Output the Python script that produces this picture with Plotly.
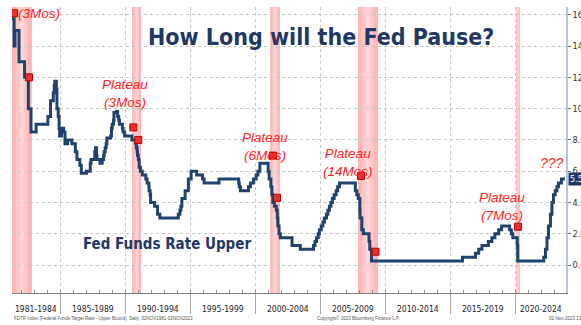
import plotly.graph_objects as go
from datetime import date

# ---------------- data ----------------
rate_dates = [
    "1981-04-22", "1981-06-20", "1981-07-15", "1981-11-05", "1982-04-10", "1982-07-25",
    "1982-10-08", "1983-03-01", "1984-01-25", "1984-04-10", "1984-06-25", "1984-07-20",
    "1984-08-10", "1984-09-20", "1984-10-05", "1984-11-10", "1984-12-05", "1984-12-20",
    "1985-02-10", "1985-04-10", "1985-05-20", "1985-08-01", "1985-12-01", "1986-03-07",
    "1986-04-21", "1986-07-11", "1986-08-21", "1987-01-10", "1987-04-30", "1987-05-20",
    "1987-09-04", "1987-09-24", "1987-10-22", "1987-11-04", "1988-01-28", "1988-03-30",
    "1988-05-09", "1988-05-25", "1988-06-22", "1988-07-19", "1988-08-08", "1988-11-22",
    "1988-12-15", "1989-01-05", "1989-02-09", "1989-02-24", "1989-05-04", "1989-06-06",
    "1989-07-07", "1989-07-27", "1989-10-18", "1989-11-06", "1989-12-20", "1990-07-13",
    "1990-10-29", "1990-11-13", "1990-12-07", "1990-12-18", "1991-01-09", "1991-02-01",
    "1991-03-08", "1991-04-30", "1991-08-06", "1991-09-13", "1991-10-31", "1991-11-06",
    "1991-12-06", "1991-12-20", "1992-04-09", "1992-07-02", "1992-09-04", "1994-02-04",
    "1994-03-22", "1994-04-18", "1994-05-17", "1994-08-16", "1994-11-15", "1995-02-01",
    "1995-07-06", "1995-12-19", "1996-01-31", "1997-03-25", "1998-09-29", "1998-10-15",
    "1998-11-17", "1999-06-30", "1999-08-24", "1999-11-16", "2000-02-02", "2000-03-21",
    "2000-05-16", "2001-01-03", "2001-01-31", "2001-03-20", "2001-04-18", "2001-05-15",
    "2001-06-27", "2001-08-21", "2001-09-17", "2001-10-02", "2001-11-06", "2001-12-11",
    "2002-11-06", "2003-06-25", "2004-06-30", "2004-08-10", "2004-09-21", "2004-11-10",
    "2004-12-14", "2005-02-02", "2005-03-22", "2005-05-03", "2005-06-30", "2005-08-09",
    "2005-09-20", "2005-11-01", "2005-12-13", "2006-01-31", "2006-03-28", "2006-05-10",
    "2006-06-29", "2007-09-18", "2007-10-31", "2007-12-11", "2008-01-22", "2008-01-30",
    "2008-03-18", "2008-04-30", "2008-10-08", "2008-10-29", "2008-12-16", "2015-12-16",
    "2016-12-14", "2017-03-15", "2017-06-14", "2017-12-13", "2018-03-21", "2018-06-13",
    "2018-09-26", "2018-12-19", "2019-07-31", "2019-09-18", "2019-10-30", "2020-03-03",
    "2020-03-15", "2022-03-16", "2022-05-04", "2022-06-15", "2022-07-27", "2022-09-21",
    "2022-11-02", "2022-12-14", "2023-02-01", "2023-03-22", "2023-05-03", "2023-07-26",
    "2023-11-02",
]
rate_values = [
    15.75, 14.0, 15.0, 13.0, 12.0, 10.0,
    8.5, 9.0, 9.5, 10.5, 11.0, 11.5,
    11.75, 11.25, 10.0, 9.5, 8.75, 8.25,
    8.75, 8.5, 7.75, 8.0, 7.75, 7.25,
    6.75, 6.375, 5.875, 6.0, 6.5, 6.75,
    7.25, 7.5, 7.0, 6.75, 6.5, 6.75,
    7.0, 7.25, 7.5, 7.75, 8.125, 8.25,
    8.75, 9.0, 9.25, 9.75, 9.8125, 9.5,
    9.25, 9.0, 8.75, 8.5, 8.25, 8.0,
    7.75, 7.5, 7.25, 7.0, 6.75, 6.25,
    6.0, 5.75, 5.5, 5.25, 5.0, 4.75,
    4.5, 4.0, 3.75, 3.25, 3.0, 3.25,
    3.5, 3.75, 4.25, 4.75, 5.5, 6.0,
    5.75, 5.5, 5.25, 5.5, 5.25, 5.0,
    4.75, 5.0, 5.25, 5.5, 5.75, 6.0,
    6.5, 6.0, 5.5, 5.0, 4.5, 4.0,
    3.75, 3.5, 3.0, 2.5, 2.0, 1.75,
    1.25, 1.0, 1.25, 1.5, 1.75, 2.0,
    2.25, 2.5, 2.75, 3.0, 3.25, 3.5,
    3.75, 4.0, 4.25, 4.5, 4.75, 5.0,
    5.25, 4.75, 4.5, 4.25, 3.5, 3.0,
    2.25, 2.0, 1.5, 1.0, 0.25, 0.5,
    0.75, 1.0, 1.25, 1.5, 1.75, 2.0,
    2.25, 2.5, 2.25, 2.0, 1.75, 1.25,
    0.25, 0.5, 1.0, 1.75, 2.5, 3.25,
    4.0, 4.5, 4.75, 5.0, 5.25, 5.5,
    5.5,
]

pause_dates = ["1981-06-17", "1982-08-13", "1990-08-21", "1991-01-08", "2001-05-19",
               "2001-09-09", "2008-02-24", "2009-04-08", "2020-03-25"]
pause_values = [16.1, 12.0, 8.8, 8.0, 7.0, 4.3, 5.7, 0.85, 2.45]

recession_starts = ["1981-04-22", "1990-07-15", "2001-03-01", "2007-12-01", "2020-02-01"]
recession_ends = ["1982-11-01", "1991-03-25", "2001-12-01", "2009-06-15", "2020-05-15"]

period_labels = ["1981-1984", "1985-1989", "1990-1994", "1995-1999",
                 "2000-2004", "2005-2009", "2010-2014", "2015-2019", "2020-2024"]
period_starts = ["1981-04-22", "1985-01-01", "1990-01-01", "1995-01-01", "2000-01-01",
                 "2005-01-01", "2010-01-01", "2015-01-01", "2020-01-01"]
period_ends = ["1985-01-01", "1990-01-01", "1995-01-01", "2000-01-01", "2005-01-01",
               "2010-01-01", "2015-01-01", "2020-01-01", "2023-12-02"]

plateau_texts = ["Plateau<br>(3Mos)", "Plateau<br>(3Mos)", "Plateau<br>(6Mos)",
                 "Plateau<br>(14Mos)", "Plateau<br>(7Mos)"]
plateau_x = ["1983-05-20", "1990-01-01", "2000-10-08", "2007-02-25", "2019-01-01"]
plateau_y = [16.42, 10.94, 7.61, 6.56, 3.74]
plateau_yshift = [4, 0, 0, 0, 0]

y_ticks = [0, 2, 4, 6, 8, 10, 12, 14, 16]
last_value = 5.5

X_RANGE = ["1981-04-22", "2023-12-02"]
Y_RANGE = [-1.79, 16.5]

NAVY = "#1F426E"
RED = "#FF2424"
COND = "DejaVu Sans Condensed"


def d(s):
    return date.fromisoformat(s)


def mid(a, b):
    da, db = d(a), d(b)
    return (da + (db - da) / 2).isoformat()


fig = go.Figure()

# recession bands (soft gradient: outer pink, lighter core)
shapes = []
for s, e in zip(recession_starts, recession_ends):
    ds, de = d(s), d(e)
    span = de - ds
    for frac, col in [(0.0, "#FFB6B6"), (0.2, "#FFC6C6"), (0.38, "#FFD6D6")]:
        x0 = (ds + span * frac).isoformat()
        x1 = (de - span * frac).isoformat()
        shapes.append(dict(type="rect", xref="x", yref="paper", x0=x0, x1=x1, y0=0, y1=1,
                           fillcolor=col, line=dict(width=0), layer="below"))

fig.add_trace(go.Scatter(
    x=rate_dates, y=rate_values, mode="lines", line=dict(color=NAVY, width=3, shape="hv"),
    hoverinfo="skip", showlegend=False))

fig.add_trace(go.Scatter(
    x=pause_dates, y=pause_values, mode="markers",
    marker=dict(symbol="square", size=7, color="#E8302F", line=dict(color="#B80000", width=1)),
    hoverinfo="skip", showlegend=False))

annotations = []
for t, x, y, ys in zip(plateau_texts, plateau_x, plateau_y, plateau_yshift):
    annotations.append(dict(x=x, y=y, xref="x", yref="y", text="<i>" + t + "</i>", showarrow=False,
                            font=dict(family="Liberation Sans", size=13.5, color=RED),
                            xanchor="center", yanchor="middle", yshift=ys))
annotations.append(dict(x="2022-11-01", y=6.5, xref="x", yref="y", text="<i>???</i>", showarrow=False,
                        font=dict(family="Liberation Sans", size=14, color=RED),
                        xanchor="center", yanchor="middle"))

# title + series label
annotations.append(dict(x=0.558, y=0.895, xref="paper", yref="paper",
                        text="<b>How Long will the Fed Pause?</b>", showarrow=False,
                        font=dict(family=COND, size=23, color="#1F3864"),
                        xanchor="center", yanchor="middle"))
annotations.append(dict(x=0.279, y=0.171, xref="paper", yref="paper",
                        text="<b>Fed Funds Rate Upper</b>", showarrow=False,
                        font=dict(family=COND, size=15, color="#1F3864"),
                        xanchor="center", yanchor="middle"))

# period labels under axis
for lab, s, e in zip(period_labels, period_starts, period_ends):
    annotations.append(dict(x=mid(s, e), y=-0.056, xref="x", yref="paper", text=lab,
                            showarrow=False, font=dict(family=COND, size=8.5, color="#222"),
                            xanchor="center", yanchor="middle"))

# last value box
annotations.append(dict(x=1, y=last_value, xref="paper", yref="y", text="5.50", showarrow=False,
                        xanchor="left", yanchor="middle", xshift=2,
                        font=dict(family=COND, size=9, color="white"),
                        bgcolor="#1F3864", borderpad=1))

# footer
annotations.append(dict(x=0, y=-0.088, xref="paper", yref="paper",
                        text="FDTR Index (Federal Funds Target Rate - Upper Bound)  Daily  02NOV1981-02NOV2023",
                        showarrow=False, xanchor="left", yanchor="middle",
                        font=dict(family="Liberation Sans", size=4.5, color="#555")))
annotations.append(dict(x=0.626, y=-0.088, xref="paper", yref="paper",
                        text="Copyright\u00a9 2023 Bloomberg Finance L.P.", showarrow=False,
                        xanchor="center", yanchor="middle",
                        font=dict(family="Liberation Sans", size=4.5, color="#555")))
annotations.append(dict(x=0.965, y=-0.088, xref="paper", yref="paper",
                        text="02-Nov-2023 13:23:52", showarrow=False,
                        xanchor="left", yanchor="middle",
                        font=dict(family="Liberation Sans", size=4.5, color="#555")))

fig.update_layout(
    width=581, height=325,
    margin=dict(l=12, r=15, t=7, b=32, autoexpand=False),
    paper_bgcolor="white", plot_bgcolor="white",
    shapes=shapes, annotations=annotations, showlegend=False,
    xaxis=dict(
        type="date", range=X_RANGE, automargin=False,
        tickvals=period_starts[1:], showticklabels=False,
        ticks="outside", ticklen=20, tickcolor="#A8A8A8", tickwidth=1,
        showgrid=True, gridcolor="#C8C8C8", griddash="dot", gridwidth=1,
        showline=True, linecolor="#7F7F7F", linewidth=1.2,
        minor=dict(dtick="M12", tick0="1981-01-01", ticks="inside", ticklen=3,
                   tickcolor="#909090", showgrid=False),
        zeroline=False, fixedrange=True,
    ),
    yaxis=dict(
        side="right", range=Y_RANGE, tickvals=y_ticks, automargin=False,
        ticktext=["%.2f" % v for v in y_ticks],
        ticks="outside", ticklen=3, tickcolor="#707070",
        tickfont=dict(family=COND, size=9, color="#333"),
        showgrid=True, gridcolor="#C8C8C8", griddash="dot", gridwidth=1,
        showline=True, linecolor="#B8C4D8", linewidth=1.5,
        zeroline=False, fixedrange=True,
    ),
)

fig.write_html("out.html")
